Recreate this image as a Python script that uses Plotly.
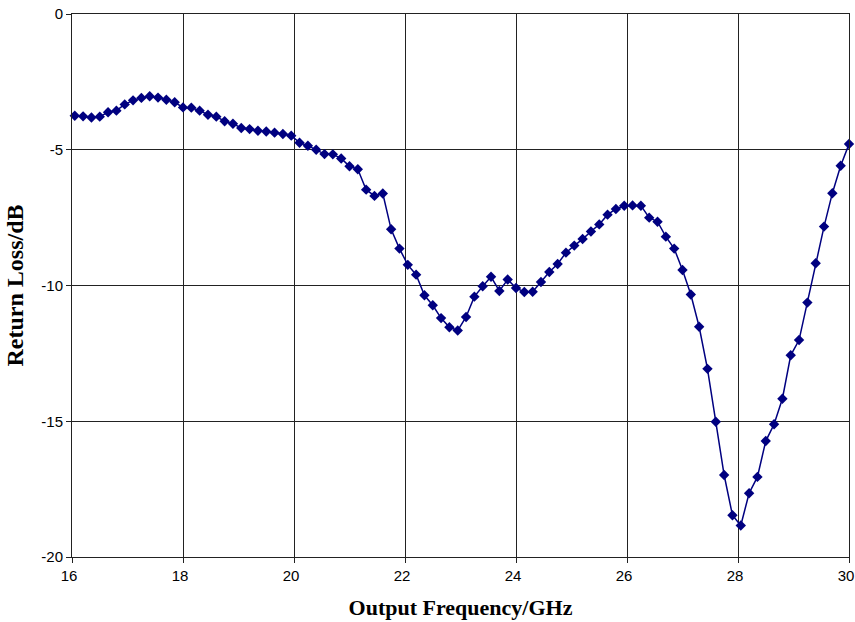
import plotly.graph_objects as go

freq_ghz = [16.05, 16.20, 16.35, 16.50, 16.65, 16.80, 16.95, 17.10, 17.25, 17.40,
            17.55, 17.70, 17.85, 18.00, 18.15, 18.30, 18.45, 18.60, 18.75, 18.90,
            19.05, 19.20, 19.35, 19.50, 19.65, 19.80, 19.95, 20.10, 20.25, 20.40,
            20.55, 20.70, 20.85, 21.00, 21.15, 21.30, 21.45, 21.60, 21.75, 21.90,
            22.05, 22.20, 22.35, 22.50, 22.65, 22.80, 22.95, 23.10, 23.25, 23.40,
            23.55, 23.70, 23.85, 24.00, 24.15, 24.30, 24.45, 24.60, 24.75, 24.90,
            25.05, 25.20, 25.35, 25.50, 25.65, 25.80, 25.95, 26.10, 26.25, 26.40,
            26.55, 26.70, 26.85, 27.00, 27.15, 27.30, 27.45, 27.60, 27.75, 27.90,
            28.05, 28.20, 28.35, 28.50, 28.65, 28.80, 28.95, 29.10, 29.25, 29.40,
            29.55, 29.70, 29.85, 30.00]

return_loss_db = [-3.75, -3.77, -3.81, -3.78, -3.62, -3.56, -3.33, -3.18, -3.09, -3.03,
                  -3.08, -3.16, -3.25, -3.44, -3.45, -3.56, -3.71, -3.78, -3.95, -4.04,
                  -4.20, -4.24, -4.30, -4.33, -4.37, -4.42, -4.48, -4.74, -4.85, -5.00,
                  -5.16, -5.17, -5.32, -5.61, -5.72, -6.47, -6.70, -6.61, -7.93, -8.64,
                  -9.24, -9.60, -10.36, -10.73, -11.20, -11.54, -11.66, -11.16, -10.41, -10.03,
                  -9.68, -10.20, -9.78, -10.09, -10.24, -10.23, -9.87, -9.50, -9.21, -8.79,
                  -8.53, -8.29, -8.01, -7.75, -7.39, -7.18, -7.06, -7.05, -7.06, -7.50,
                  -7.65, -8.20, -8.64, -9.43, -10.33, -11.52, -13.07, -15.02, -16.98, -18.46,
                  -18.84, -17.65, -17.05, -15.73, -15.11, -14.17, -12.57, -12.01, -10.63, -9.18,
                  -7.83, -6.60, -5.59, -4.79]

x_ticks = [16, 18, 20, 22, 24, 26, 28, 30]
x_tick_labels = ["16", "18", "20", "22", "24", "26", "28", "30"]
y_ticks = [0, -5, -10, -15, -20]
y_tick_labels = ["0", "-5", "-10", "-15", "-20"]

tick_font = dict(family="Liberation Sans Narrow, Liberation Sans, Arial", size=15, color="black")
x_title_font = dict(family="Liberation Serif, Times New Roman", size=22, color="black")
y_title_font = dict(family="Liberation Serif, Times New Roman", size=24, color="black")

fig = go.Figure()
fig.add_trace(go.Scatter(
    x=freq_ghz, y=return_loss_db, mode="lines+markers",
    line=dict(color="#000080", width=1.5),
    marker=dict(symbol="diamond", size=8, color="#000080"),
    cliponaxis=False,
    showlegend=False,
))

fig.update_layout(
    width=855, height=622,
    margin=dict(l=72, r=6, t=14, b=65, autoexpand=False),
    paper_bgcolor="white", plot_bgcolor="white",
    font=dict(family="Liberation Sans, Arial", size=12, color="black"),
    xaxis=dict(
        range=[16, 30], tickvals=x_ticks, ticktext=x_tick_labels,
        automargin=False, ticklabeloverflow="allow", ticklabelshift=-3,
        tickfont=tick_font,
        showgrid=True, gridcolor="#222222", gridwidth=1,
        showline=True, linecolor="#222222", linewidth=1, mirror=True,
        ticks="outside", ticklen=5, tickcolor="#222222",
        zeroline=False,
        title=dict(text="<b>Output Frequency/GHz</b>", font=x_title_font, standoff=16),
    ),
    yaxis=dict(
        range=[-20, 0], tickvals=y_ticks, ticktext=y_tick_labels,
        automargin=False, ticklabeloverflow="allow",
        tickfont=tick_font,
        showgrid=True, gridcolor="#222222", gridwidth=1,
        showline=True, linecolor="#222222", linewidth=1, mirror=True,
        ticks="outside", ticklen=5, tickcolor="#222222",
        zeroline=False,
        title=dict(text="<b>Return Loss/dB</b>", font=y_title_font, standoff=10),
    ),
)

fig.write_html(
    "out.html",
    config={"displayModeBar": False},
    post_script="document.body.style.margin='0';document.body.style.overflow='hidden';",
)
